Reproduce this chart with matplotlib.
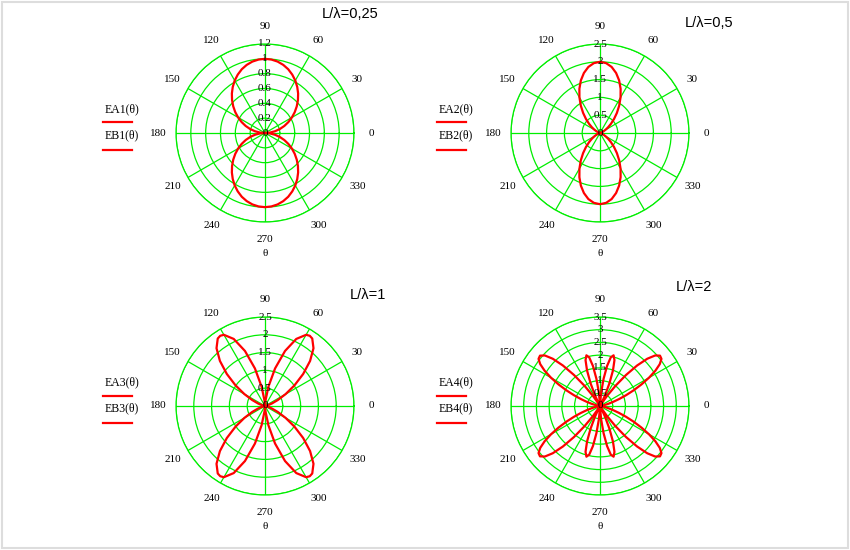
import numpy as np
import matplotlib
matplotlib.use("Agg")
import matplotlib.pyplot as plt
from matplotlib.lines import Line2D
from matplotlib.patches import Rectangle

# radiation patterns, one quadrant (0..90 deg);
# every pattern is symmetric about the horizontal and vertical axes
theta_a = [0, 5, 10, 15, 20, 25, 30, 35, 40, 45, 50, 55, 60, 65, 70, 75, 80, 85, 90]
E1 = [0, 0.069, 0.137, 0.207, 0.277, 0.347, 0.418, 0.489, 0.559, 0.628,
      0.695, 0.758, 0.817, 0.869, 0.915, 0.951, 0.978, 0.994, 1.0]
E2 = [0, 0.001, 0.007, 0.022, 0.052, 0.102, 0.175, 0.274, 0.402, 0.558,
      0.739, 0.941, 1.155, 1.370, 1.572, 1.746, 1.884, 1.970, 2.0]

theta_b = [0, 5, 10, 15, 20, 25, 30, 35, 40, 45, 50, 55, 57.5, 60, 65, 70, 75, 80, 85, 90]
E3 = [0, 0.003, 0.026, 0.088, 0.207, 0.398, 0.668, 1.010, 1.400, 1.791,
      2.119, 2.314, 2.339, 2.309, 2.079, 1.645, 1.092, 0.547, 0.147, 0]

theta_c = [0, 2.5, 5, 7.5, 10, 12.5, 15, 17.5, 20, 22.5, 25, 27.5, 30, 32.5, 35, 37.5,
           40, 42.5, 45, 47.5, 50, 52.5, 55, 57.5, 60, 62.5, 65, 67.5, 70, 72.5, 75,
           77.5, 80, 82.5, 85, 87.5, 90]
E4 = [0, 0.002, 0.013, 0.044, 0.105, 0.203, 0.349, 0.547, 0.800, 1.107, 1.459,
      1.840, 2.225, 2.582, 2.869, 3.047, 3.080, 2.941, 2.628, 2.162, 1.595, 1.005,
      0.486, 0.128, 0, 0.128, 0.482, 0.979, 1.493, 1.891, 2.064, 1.959, 1.598,
      1.079, 0.544, 0.147, 0]

r_max = [1.2, 2.5, 2.5, 3.5]
r_step = [0.2, 0.5, 0.5, 0.5]
titles = ["L/\u03bb=0,25", "L/\u03bb=0,5", "L/\u03bb=1", "L/\u03bb=2"]
names = ["1", "2", "3", "4"]
angle_labels = ["0", "30", "60", "90", "120", "150", "180", "210", "240", "270", "300", "330"]

W, H = 850, 550
GREEN = "#00ee00"
RED = "#ff0000"
SERIF = "Liberation Serif"

fig = plt.figure(figsize=(8.5, 5.5), dpi=100)
fig.patch.set_facecolor("white")
fig.add_artist(Rectangle((0.002, 0.003), 0.996, 0.994, transform=fig.transFigure,
                         fill=False, edgecolor="#dddddd", lw=1.5))

# layout in pixels: circle centre, radius, legend x, title pos
centers = [(265, 133), (600, 133), (265, 406), (600, 406)]
R = 89
legend_x = [103, 437, 103, 437]
title_pos = [(322, 14), (685, 23), (350, 295), (676, 287)]


def mirror(th, r):
    th = list(th)
    r = list(r)
    up_t = th + [180 - a for a in th[::-1][1:]]
    up_r = r + r[::-1][1:]
    lo_t = [180 + a for a in up_t]
    return np.radians(up_t), up_r, np.radians(lo_t), up_r


data = [(theta_a, E1), (theta_a, E2), (theta_b, E3), (theta_c, E4)]

for i in range(4):
    cx, cy = centers[i]
    ax = fig.add_axes([(cx - R) / W, 1 - (cy + R) / H, 2 * R / W, 2 * R / H],
                      projection="polar")
    ta, ra, tb, rb = mirror(*data[i])
    ax.plot(ta, ra, color=RED, lw=1.6, zorder=3)   # EA
    ax.plot(tb, rb, color=RED, lw=1.6, zorder=3)   # EB
    ax.set_ylim(0, r_max[i])
    rings = np.arange(r_step[i], r_max[i] + 1e-9, r_step[i])
    ax.set_yticks(rings)
    ax.set_yticklabels([])
    ax.set_xticks(np.radians(np.arange(0, 360, 30)))
    ax.set_xticklabels([])
    ax.grid(True, color=GREEN, lw=0.9)
    ax.spines["polar"].set_color(GREEN)
    ax.spines["polar"].set_linewidth(0.9)
    ax.tick_params(length=0)

    # radial labels along the 90 deg spoke
    for r in [0] + list(rings):
        ax.text(np.pi / 2, r, f"{r:g}", ha="center", va="center", fontsize=8,
                family=SERIF, zorder=4)
    # angle labels outside the circle
    for k, lab in enumerate(angle_labels):
        ax.text(np.radians(30 * k), r_max[i] * 1.2, lab, ha="center", va="center",
                fontsize=8, family=SERIF, clip_on=False)
    ax.text(np.radians(270), r_max[i] * 1.35, "\u03b8", ha="center", va="center",
            fontsize=8, family=SERIF, clip_on=False)

    tx, ty = title_pos[i]
    fig.text(tx / W, 1 - ty / H, titles[i], ha="left", va="center", fontsize=10.5,
             family="Liberation Sans")

    lx = legend_x[i]
    ly = cy - 24
    fig.text((lx + 2) / W, 1 - ly / H, f"EA{names[i]}(\u03b8)", ha="left", va="center",
             fontsize=8.5, family=SERIF)
    fig.add_artist(Line2D([lx / W, (lx + 29) / W], [1 - (ly + 13.5) / H] * 2,
                          color=RED, lw=1.6))
    fig.text((lx + 2) / W, 1 - (ly + 26.5) / H, f"EB{names[i]}(\u03b8)", ha="left",
             va="center", fontsize=8.5, family=SERIF)
    fig.add_artist(Line2D([lx / W, (lx + 29) / W], [1 - (ly + 41) / H] * 2,
                          color=RED, lw=1.6))

fig.savefig("out.png", dpi=100, facecolor="white")
